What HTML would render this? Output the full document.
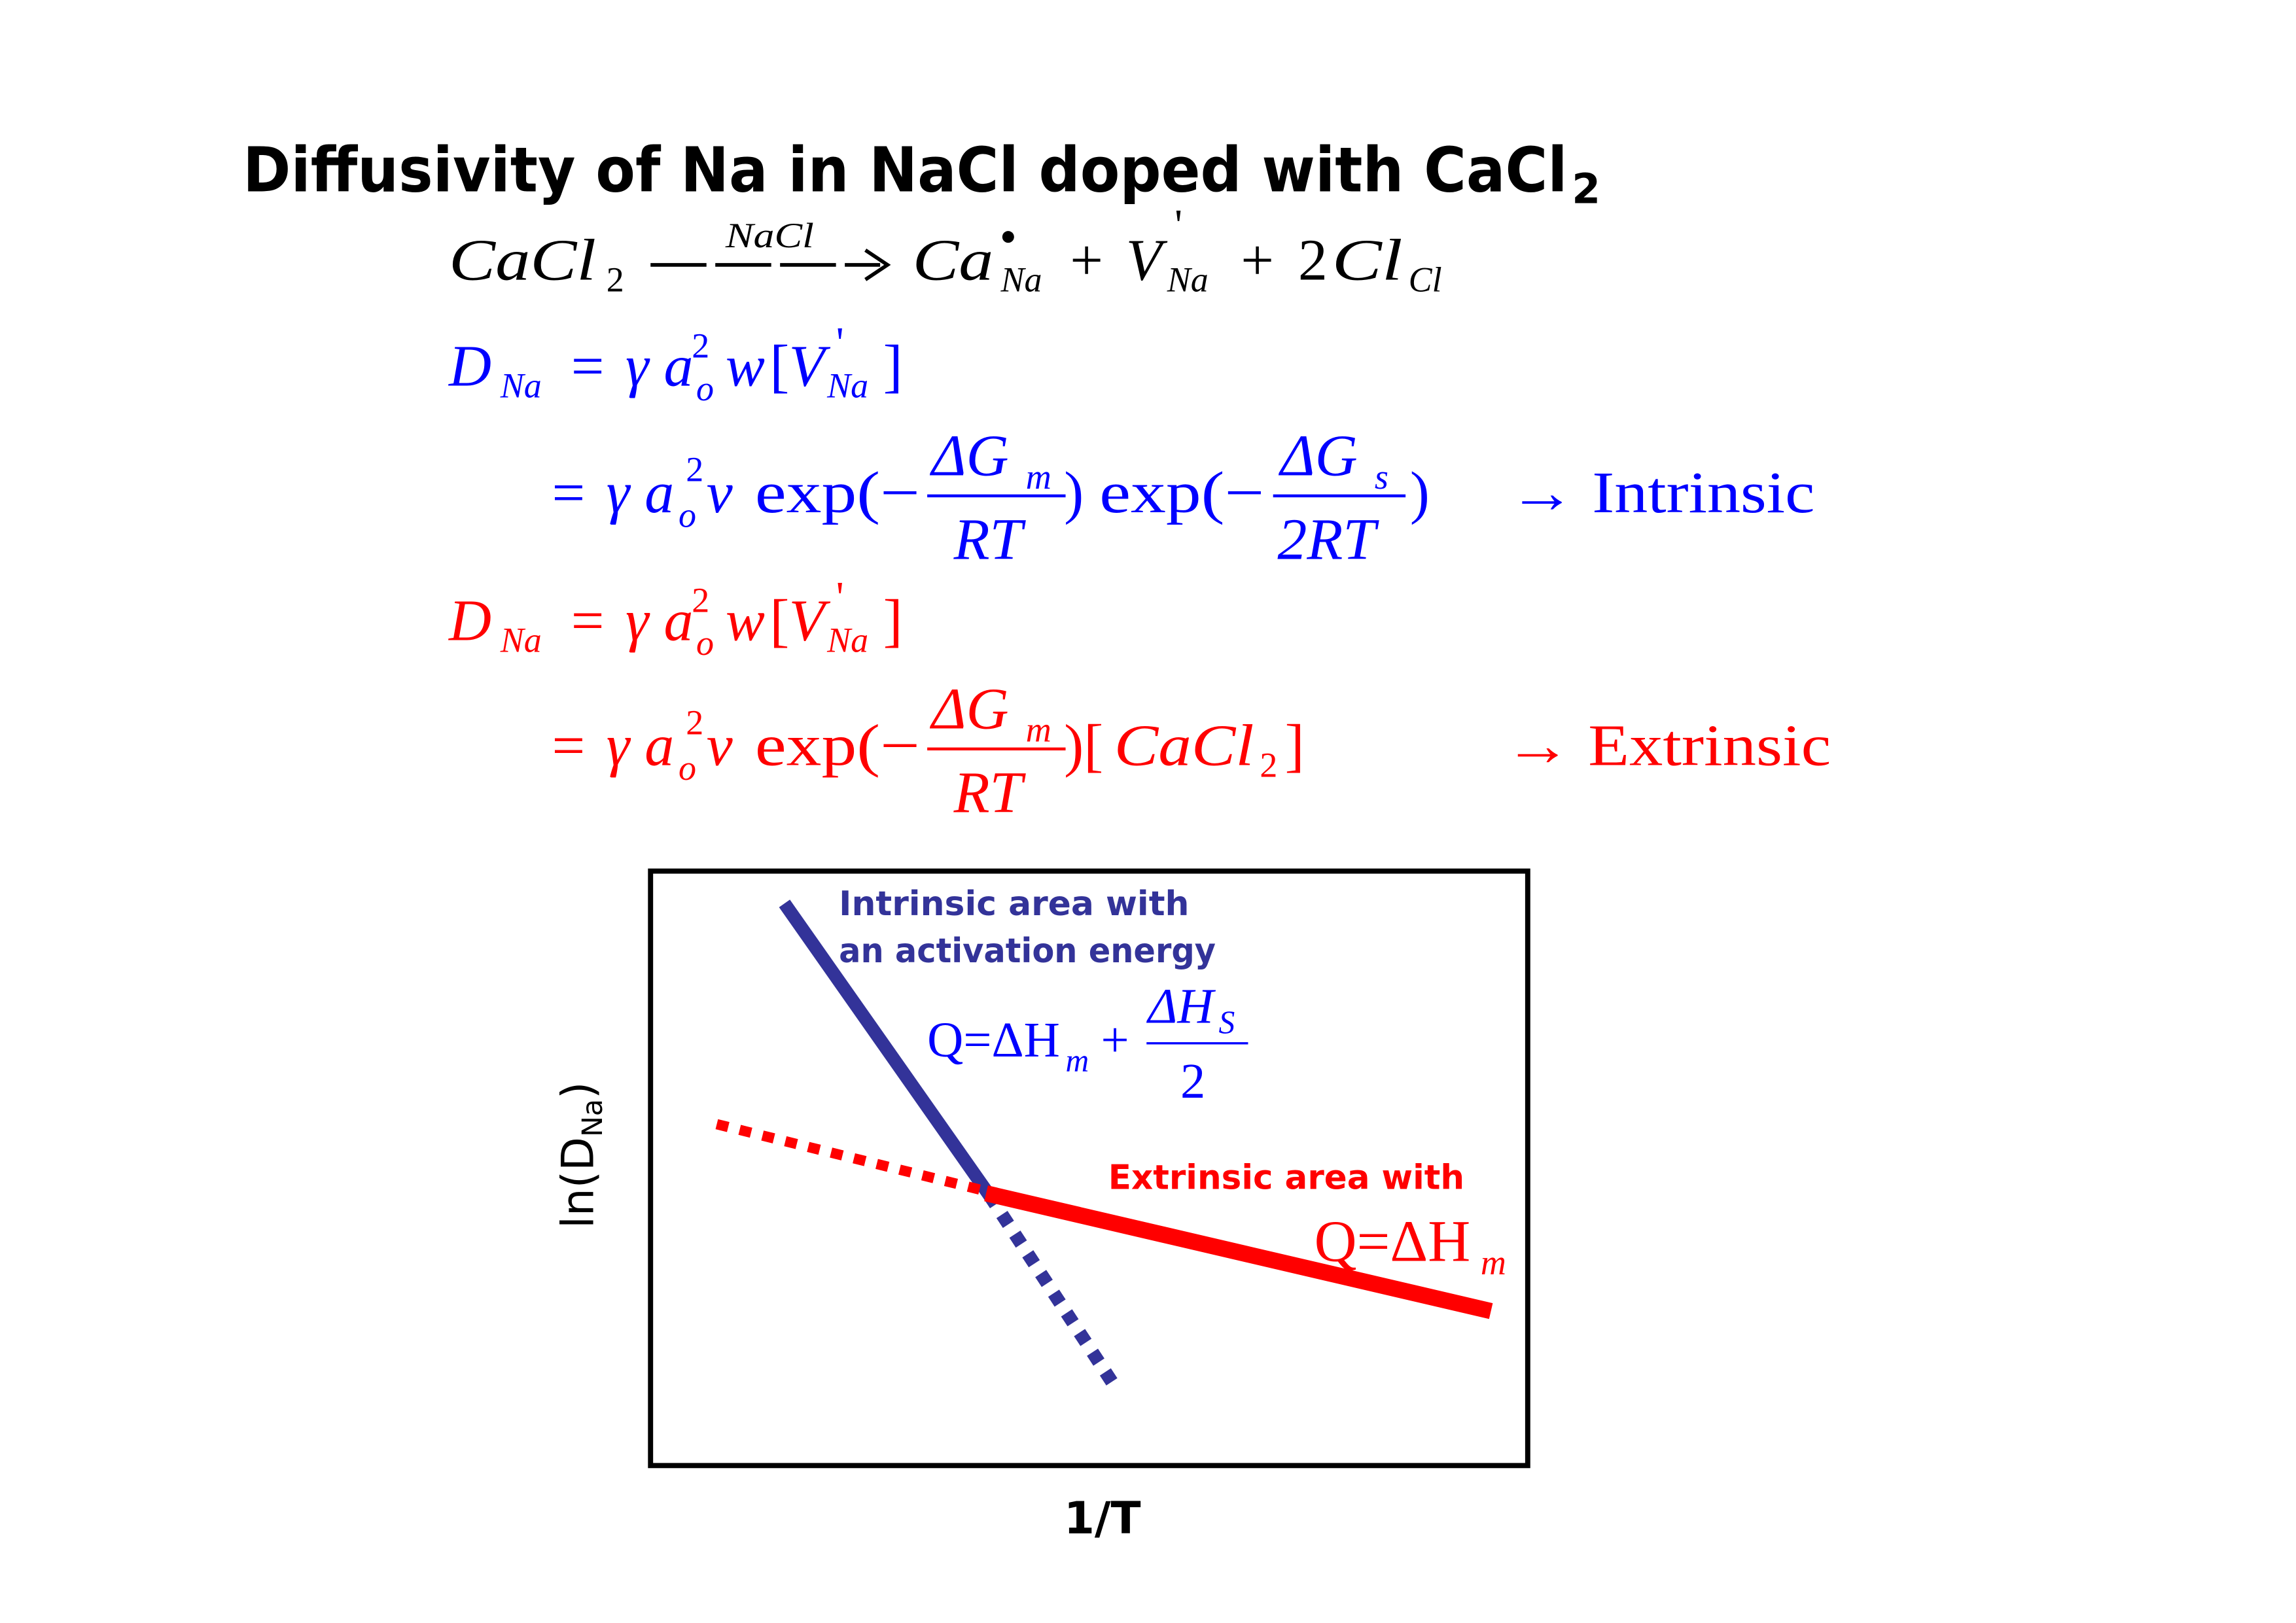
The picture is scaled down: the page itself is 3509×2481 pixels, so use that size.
<!DOCTYPE html>
<html><head><meta charset="utf-8"><style>
html,body{margin:0;padding:0;background:#fff}
svg{display:block}
.t{font-family:"DejaVu Sans","Liberation Sans",sans-serif;font-weight:bold}
.s{font-family:"Liberation Serif",serif}
.i{font-style:italic}
</style></head><body>
<svg width="3509" height="2481" viewBox="0 0 1560 1103" xmlns="http://www.w3.org/2000/svg">
<rect width="1560" height="1103" fill="#fff"/>
<text class="t" x="165" y="130" font-size="42" textLength="900" lengthAdjust="spacingAndGlyphs">Diffusivity of Na in NaCl doped with CaCl</text>
<text class="t" x="1068" y="138" font-size="28">2</text>

<g class="s" font-size="40">
<text class="i" x="305" y="190" textLength="100" lengthAdjust="spacingAndGlyphs">CaCl</text>
<text x="412" y="198" font-size="24">2</text>
<line x1="442" y1="180" x2="598" y2="180" stroke="#000" stroke-width="2.5" stroke-dasharray="38,6"/>
<path d="M588,170 L603,180 L588,190" fill="none" stroke="#000" stroke-width="2.5"/>
<text class="i" x="493" y="168" font-size="24" textLength="60" lengthAdjust="spacingAndGlyphs">NaCl</text>
<text class="i" x="620" y="190" textLength="55" lengthAdjust="spacingAndGlyphs">Ca</text>
<circle cx="685" cy="161" r="4" fill="#000"/>
<text class="i" x="680" y="198" font-size="24">Na</text>
<text x="727" y="190">+</text>
<text class="i" x="765" y="190">V</text>
<text x="798" y="163" font-size="30">'</text>
<text class="i" x="793" y="198" font-size="24">Na</text>
<text x="843" y="190">+</text>
<text x="882" y="190">2</text>
<text class="i" x="905" y="190" textLength="48" lengthAdjust="spacingAndGlyphs">Cl</text>
<text class="i" x="957" y="198" font-size="24">Cl</text>
</g>

<g class="s" font-size="40" fill="#0000ff">
<text class="i" x="305" y="262">D</text>
<text class="i" x="340" y="270" font-size="24">Na</text>
<text x="388" y="262">=</text>
<text class="i" x="425" y="262">γ</text>
<text class="i" x="451" y="262">a</text>
<text x="470" y="243" font-size="24">2</text>
<text class="i" x="473" y="272" font-size="24">o</text>
<text class="i" x="493" y="262">w</text>
<text x="523" y="262">[</text>
<text class="i" x="536" y="262">V</text>
<text x="568" y="243" font-size="30">'</text>
<text class="i" x="562" y="270" font-size="24">Na</text>
<text x="600" y="262">]</text>

<text x="375" y="348">=</text>
<text class="i" x="412" y="348">γ</text>
<text class="i" x="438" y="348">a</text>
<text x="466" y="327" font-size="24">2</text>
<text class="i" x="461" y="358" font-size="24">o</text>
<text class="i" x="480" y="348">ν</text>
<text x="513" y="348" textLength="112" lengthAdjust="spacingAndGlyphs">exp(−</text>
<line x1="630" y1="337" x2="724" y2="337" stroke="#0000ff" stroke-width="2"/>
<text class="i" x="633" y="323">ΔG</text>
<text class="i" x="697" y="332" font-size="24">m</text>
<text class="i" x="648" y="380">RT</text>
<text x="723" y="348">)</text>
<text x="747" y="348" textLength="112" lengthAdjust="spacingAndGlyphs">exp(−</text>
<line x1="865" y1="337" x2="955" y2="337" stroke="#0000ff" stroke-width="2"/>
<text class="i" x="870" y="323">ΔG</text>
<text class="i" x="934" y="332" font-size="24">s</text>
<text class="i" x="868" y="380">2RT</text>
<text x="958" y="348">)</text>
<text x="1025" y="348" textLength="208" lengthAdjust="spacingAndGlyphs">→ Intrinsic</text>
</g>

<g class="s" font-size="40" fill="#ff0000">
<text class="i" x="305" y="435">D</text>
<text class="i" x="340" y="443" font-size="24">Na</text>
<text x="388" y="435">=</text>
<text class="i" x="425" y="435">γ</text>
<text class="i" x="451" y="435">a</text>
<text x="470" y="416" font-size="24">2</text>
<text class="i" x="473" y="445" font-size="24">o</text>
<text class="i" x="493" y="435">w</text>
<text x="523" y="435">[</text>
<text class="i" x="536" y="435">V</text>
<text x="568" y="416" font-size="30">'</text>
<text class="i" x="562" y="443" font-size="24">Na</text>
<text x="600" y="435">]</text>

<text x="375" y="520">=</text>
<text class="i" x="412" y="520">γ</text>
<text class="i" x="438" y="520">a</text>
<text x="466" y="499" font-size="24">2</text>
<text class="i" x="461" y="530" font-size="24">o</text>
<text class="i" x="480" y="520">ν</text>
<text x="513" y="520" textLength="112" lengthAdjust="spacingAndGlyphs">exp(−</text>
<line x1="630" y1="509" x2="724" y2="509" stroke="#ff0000" stroke-width="2"/>
<text class="i" x="633" y="495">ΔG</text>
<text class="i" x="697" y="504" font-size="24">m</text>
<text class="i" x="648" y="552">RT</text>
<text x="723" y="520">)[</text>
<text class="i" x="757" y="520" textLength="95" lengthAdjust="spacingAndGlyphs">CaCl</text>
<text x="856" y="528" font-size="24">2</text>
<text x="873" y="520">]</text>
<text x="1022" y="520" textLength="222" lengthAdjust="spacingAndGlyphs">→ Extrinsic</text>
</g>

<rect x="442" y="592" width="596" height="404" fill="none" stroke="#000" stroke-width="3.5"/>
<line x1="533" y1="614" x2="672" y2="812" stroke="#333399" stroke-width="9"/>
<line x1="672" y1="812" x2="758" y2="943" stroke="#333399" stroke-width="9" stroke-dasharray="8,8"/>
<line x1="487" y1="764" x2="672" y2="810" stroke="#ff0000" stroke-width="7" stroke-dasharray="8,8"/>
<line x1="670" y1="811" x2="1013" y2="891" stroke="#ff0000" stroke-width="11"/>

<g class="t" font-size="23" fill="#333399">
<text x="570" y="622" textLength="238" lengthAdjust="spacingAndGlyphs">Intrinsic area with</text>
<text x="570" y="654" textLength="256" lengthAdjust="spacingAndGlyphs">an activation energy</text>
</g>
<g class="s" fill="#0000ff" font-size="34">
<text x="630" y="718">Q=ΔH</text>
<text class="i" x="724" y="728" font-size="22">m</text>
<text x="748" y="718">+</text>
<line x1="779" y1="709" x2="848" y2="709" stroke="#0000ff" stroke-width="1.5"/>
<text class="i" x="780" y="695">ΔH</text>
<text class="i" x="828" y="702" font-size="22">S</text>
<text x="802" y="746">2</text>
</g>
<text class="t" x="753" y="808" font-size="23" fill="#ff0000" textLength="242" lengthAdjust="spacingAndGlyphs">Extrinsic area with</text>
<g class="s" fill="#ff0000" font-size="40">
<text x="893" y="857">Q=ΔH</text>
<text class="i" x="1006" y="866" font-size="24">m</text>
</g>
<text class="t" font-size="30" style="font-weight:normal" transform="translate(403,785) rotate(-90)" text-anchor="middle">ln(D<tspan font-size="19" dy="6">Na</tspan><tspan dy="-6">)</tspan></text>
<text class="t" x="749" y="1042" font-size="30" text-anchor="middle">1/T</text>
</svg>
</body></html>
